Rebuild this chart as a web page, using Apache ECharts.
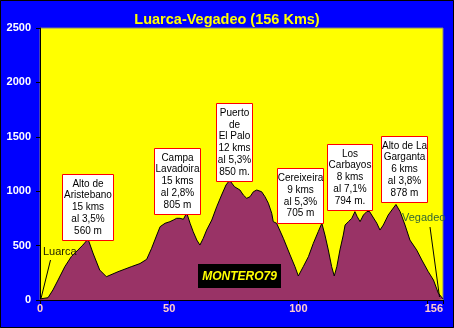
<!DOCTYPE html>
<html>
<head>
<meta charset="utf-8">
<script src="https://cdn.jsdelivr.net/npm/echarts@6/dist/echarts.min.js"></script>
<style>
  html, body { margin: 0; padding: 0; background: #0000FF; }
  #chart { width: 454px; height: 328px; }
</style>
</head>
<body>
<div id="chart"></div>
<script>
// Elevation profile of the stage, distance in km and altitude in metres
const km = [0, 3.1, 5.0, 7.0, 9.6, 12.1, 14.7, 16.6, 18.6, 20.5, 23.1, 25.7, 30.2, 35.3, 38.7, 41.3,
  43.2, 45.2, 46.5, 48.4, 50.3, 51.6, 52.9, 54.2, 55.5, 56.8, 58.1, 59.3, 60.7, 61.9, 63.2,
  64.5, 66.5, 68.4, 70.3, 72.0, 73.4, 75.3, 77.4, 78.7, 80.0, 81.3, 82.6, 83.9, 85.8, 87.1,
  88.4, 89.7, 90.3, 91.6, 94.2, 96.8, 98.7, 100.0, 101.9, 103.9, 105.8, 107.7, 109.1, 110.3,
  111.6, 112.9, 113.9, 114.9, 116.1, 117.4, 118.1, 119.4, 120.7, 121.9, 122.8, 123.9, 125.2,
  126.5, 127.5, 128.4, 130.4, 131.6, 132.9, 134.8, 136.2, 137.8, 139.4, 141.3, 143.2, 145.8,
  147.8, 150.3, 152.3, 154.2, 156];
const altitude = [10, 21, 92, 184, 306, 398, 460, 505, 560, 432, 276, 214, 260, 306, 335, 374,
  475, 597, 674, 705, 720, 735, 751, 751, 742, 800, 705, 628, 551, 505, 567,
  643, 735, 857, 965, 1057, 1100, 1041, 1011, 965, 935, 949, 995, 1011, 995, 949,
  889, 797, 720, 705, 567, 414, 306, 221, 306, 398, 521, 628, 705, 597,
  460, 306, 221, 306, 460, 597, 689, 720, 751, 812, 766, 720, 781,
  812, 815, 781, 705, 643, 689, 781, 827, 878, 812, 689, 551, 460,
  368, 260, 184, 62, 10];

// Climbs along the route
const climbNames = [['Alto de', 'Aristebano'], ['Campa', 'Lavadoira'], ['Puerto', 'de', 'El Palo'],
  ['Cereixeira'], ['Los', 'Carbayos'], ['Alto de La', 'Garganta']];
const climbLengths = ['15 kms', '15 kms', '12 kms', '9 kms', '8 kms', '6 kms'];
const climbGrades = ['al 3,5%', 'al 2,8%', 'al 5,3%', 'al 5,3%', 'al 7,1%', 'al 3,8%'];
const climbHeights = ['560 m', '805 m', '850 m.', '705 m', '794 m.', '878 m'];

const xTicks = [0, 50, 100, 156];
const yTicks = [0, 500, 1000, 1500, 2000, 2500];
const startTown = 'Luarca';
const endTown = 'Vegadeo';
const chartTitle = 'Luarca-Vegadeo (156 Kms)';
const signature = 'MONTERO79';

const FONT = '"Liberation Sans", Arial, sans-serif';

// Callout boxes: [left, top, right, bottom]
const boxLayout = [
  [62, 174, 113, 240],
  [154, 148, 200, 214],
  [216, 103, 252, 181],
  [277, 168, 323, 223],
  [327, 144, 372, 210],
  [381, 136, 427, 202]
];
const LINE_H = 11.8;

const graphics = [];
boxLayout.forEach((b, i) => {
  const lines = climbNames[i].concat([climbLengths[i], climbGrades[i], climbHeights[i]]);
  graphics.push({
    type: 'rect', z: 10,
    shape: { x: b[0] + 0.5, y: b[1] + 0.5, width: b[2] - b[0], height: b[3] - b[1] },
    style: { fill: '#FFFFFF', stroke: '#FF0000', lineWidth: 1 }
  });
  const h = lines.length * LINE_H;
  graphics.push({
    type: 'text', z: 11,
    x: (b[0] + b[2]) / 2 + 0.5,
    y: (b[1] + b[3]) / 2 + 0.5 - h / 2,
    style: {
      text: lines.join('\n'), fill: '#000000', font: '10px ' + FONT,
      align: 'center', verticalAlign: 'top', lineHeight: LINE_H
    }
  });
});

// Town names with leader lines, signature plate and outer frame
graphics.push(
  { type: 'text', z: 10, x: 43, y: 251.5,
    style: { text: startTown, fill: '#222200', font: '11px ' + FONT, align: 'left', verticalAlign: 'middle' } },
  { type: 'line', z: 10, shape: { x1: 50.5, y1: 260, x2: 41, y2: 298.5 },
    style: { stroke: '#000000', lineWidth: 1 } },
  { type: 'text', z: 10, x: 402, y: 218,
    style: { text: endTown, fill: '#336633', font: '11px ' + FONT, align: 'left', verticalAlign: 'middle' } },
  { type: 'line', z: 10, shape: { x1: 430, y1: 227, x2: 439.5, y2: 297 },
    style: { stroke: '#000000', lineWidth: 1 } },
  { type: 'rect', z: 10, shape: { x: 198, y: 264, width: 83, height: 24 },
    style: { fill: '#000000' } },
  { type: 'text', z: 11, x: 239.5, y: 276.5,
    style: { text: signature, fill: '#FFFF00', font: 'italic bold 12px ' + FONT,
      align: 'center', verticalAlign: 'middle' } },
  { type: 'rect', z: 20, shape: { x: 0.5, y: 0.5, width: 453, height: 327 },
    style: { fill: 'none', stroke: '#000000', lineWidth: 1 } }
);

const chart = echarts.init(document.getElementById('chart'), null, { renderer: 'canvas' });
chart.setOption({
  animation: false,
  backgroundColor: '#0000FF',
  title: {
    text: chartTitle, left: 'center', top: 7,
    textStyle: { color: '#FFFF00', fontSize: 14.5, fontWeight: 'bold', fontFamily: FONT }
  },
  grid: {
    left: 40, right: 11, top: 28, bottom: 28,
    show: true, backgroundColor: '#FFFF00', borderColor: '#808080', borderWidth: 1
  },
  xAxis: {
    type: 'value', min: 0, max: 156, interval: 50,
    axisLine: { show: true, onZero: false, lineStyle: { color: '#000000', width: 1 } },
    axisTick: { show: true, length: 4, lineStyle: { color: '#000000' } },
    splitLine: { show: false },
    axisLabel: {
      color: '#FFCCCC', fontSize: 11, fontWeight: 'bold', fontFamily: FONT, margin: 3,
      showMaxLabel: true, alignMaxLabel: 'right',
      formatter: v => (xTicks.indexOf(v) >= 0 ? String(v) : '')
    }
  },
  yAxis: {
    type: 'value', min: 0, max: 2500, interval: 500,
    axisLine: { show: true, lineStyle: { color: '#000000', width: 1 } },
    axisTick: { show: true, length: 4, lineStyle: { color: '#000000' } },
    splitLine: { show: false },
    axisLabel: {
      color: '#FFFFFF', fontSize: 11, fontWeight: 'bold', fontFamily: FONT, margin: 9,
      formatter: v => (yTicks.indexOf(v) >= 0 ? String(v) : '')
    }
  },
  series: [{
    type: 'line',
    data: km.map((k, i) => [k, altitude[i]]),
    showSymbol: false,
    smooth: false,
    lineStyle: { color: '#000000', width: 1 },
    areaStyle: { color: '#993366', opacity: 1 },
    z: 2
  }],
  graphic: graphics
});
</script>
</body>
</html>
